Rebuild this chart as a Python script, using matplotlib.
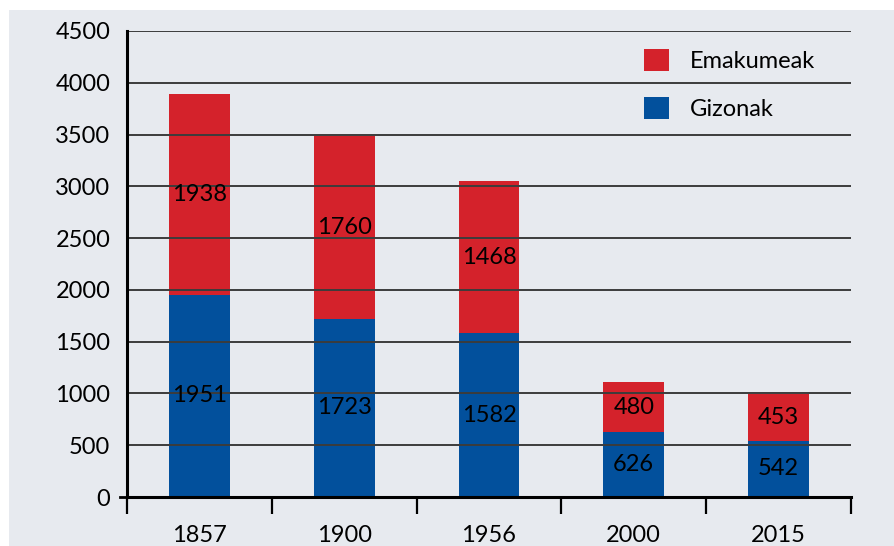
import numpy as np
import matplotlib.pyplot as plt
from matplotlib.patches import Rectangle

years = ['1857', '1900', '1956', '2000', '2015']
gizonak = [1951, 1723, 1582, 626, 542]
emakumeak = [1938, 1760, 1468, 480, 453]
yticks = [0, 500, 1000, 1500, 2000, 2500, 3000, 3500, 4000, 4500]

BLUE = '#02509c'
RED = '#d4222b'
BG = '#e7eaef'
FS = 17

plt.rcParams['font.family'] = ['Lato', 'DejaVu Sans']

fig = plt.figure(figsize=(8.94, 5.46), dpi=100)
fig.patch.set_facecolor('white')
fig.patches.append(Rectangle((9 / 894, 0), 1, 1 - 10 / 546, transform=fig.transFigure,
                             facecolor=BG, edgecolor='none', zorder=-10))

ax = fig.add_axes([127 / 894, 1 - 497 / 546, (851 - 127) / 894, (497 - 31) / 546])
ax.patch.set_alpha(0)

x = np.arange(len(years))
b1 = ax.bar(x, gizonak, width=0.42, color=BLUE, label='Gizonak', zorder=1)
b2 = ax.bar(x, emakumeak, width=0.42, bottom=gizonak, color=RED, label='Emakumeak', zorder=1)

# gridlines drawn over the bars like the original
for v in yticks[1:]:
    ax.axhline(v, color='#3c3c3c', lw=1.4, zorder=2)

for i in range(len(years)):
    ax.text(x[i], gizonak[i] / 2, str(gizonak[i]), ha='center', va='center',
            fontsize=FS, color='black', zorder=3)
    ax.text(x[i], gizonak[i] + emakumeak[i] / 2, str(emakumeak[i]), ha='center',
            va='center', fontsize=FS, color='black', zorder=3)

ax.set_xlim(-0.5, len(years) - 0.5)
ax.set_ylim(0, 4500)
ax.set_yticks(yticks)
ax.set_yticklabels([str(v) for v in yticks], fontsize=FS)
ax.tick_params(axis='y', length=0, pad=12)
ax.set_xticks(x)
ax.set_xticklabels(years, fontsize=FS)
ax.tick_params(axis='x', which='major', length=0, pad=20)
ax.set_xticks(np.arange(len(years) + 1) - 0.5, minor=True)
ax.tick_params(axis='x', which='minor', length=12, width=1.6, direction='out', color='black')

for s in ['top', 'right']:
    ax.spines[s].set_visible(False)
for s in ['left', 'bottom']:
    ax.spines[s].set_linewidth(2.2)
    ax.spines[s].set_color('black')
    ax.spines[s].set_zorder(4)

# small tick left of the origin
ax.plot([-0.55, -0.5], [0, 0], color='black', lw=2, clip_on=False, zorder=4)

leg = ax.legend(handles=[b2, b1], loc='upper left', bbox_to_anchor=(644 / 894, 1 - 49 / 546),
                bbox_transform=fig.transFigure, frameon=False, fontsize=FS,
                handlelength=1.06, handleheight=1.06, handletextpad=0.9,
                labelspacing=1.05, borderpad=0, borderaxespad=0)

fig.savefig('out.png', dpi=100)
